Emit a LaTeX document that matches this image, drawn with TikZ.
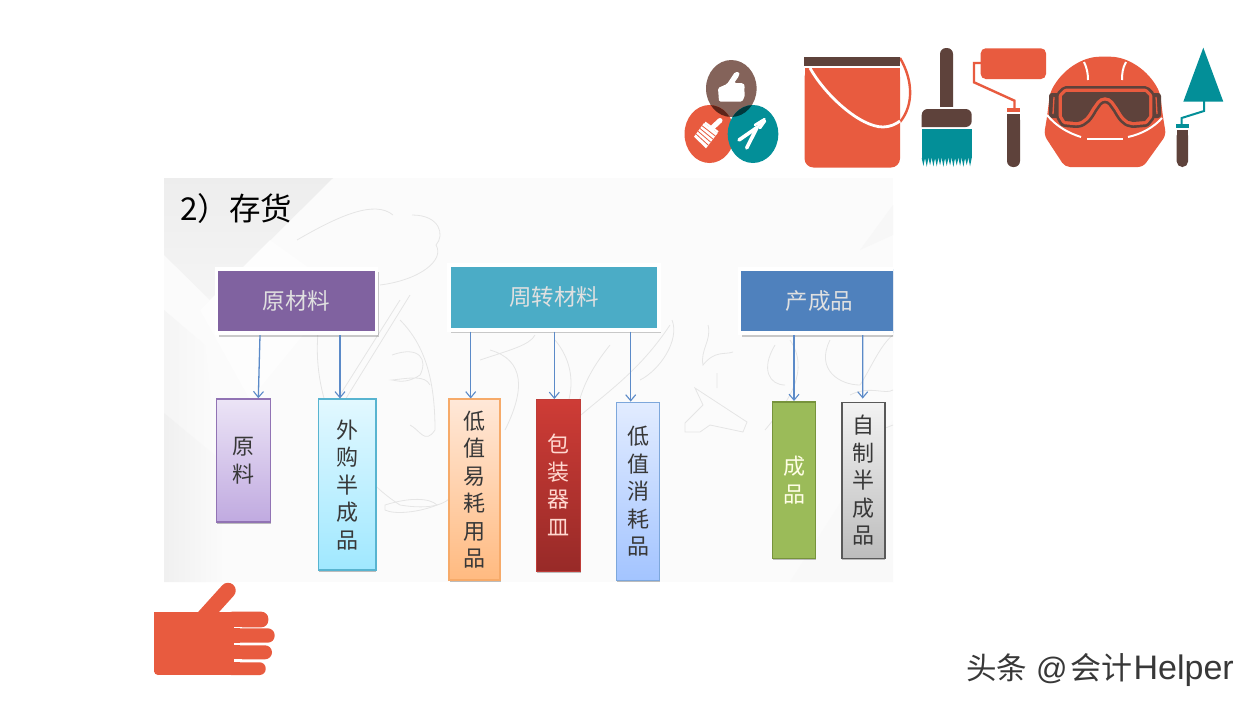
\documentclass[tikz,border=0pt]{standalone}
\usepackage{fontspec}
\setmainfont{Liberation Sans}
\newfontfamily\cjk{Noto Sans CJK SC}
\usetikzlibrary{arrows.meta,shadows}
\definecolor{orng}{HTML}{E85B3F}
\definecolor{brwn}{HTML}{5E423B}
\definecolor{teal2}{HTML}{038F98}
\definecolor{brwnb}{HTML}{84635A}
\definecolor{arr}{HTML}{5B8AC8}
\tikzset{
 head/.style={draw=white,line width=3.6pt,minimum width=#1,minimum height=64.5pt,inner sep=0pt,text=white!88!black,font=\cjk\fontsize{22.5}{22.5}\selectfont,
   drop shadow={shadow xshift=2pt,shadow yshift=-3.4pt,fill=black,opacity=.2}},
 leaf/.style={line width=1.5pt,inner sep=0pt,align=center,font=\cjk\fontsize{22}{27.5}\selectfont,text=black!78,
   drop shadow={shadow xshift=.5pt,shadow yshift=-2pt,fill=black,opacity=.25}},
 flow/.style={draw=arr,line width=1.3pt,-{Straight Barb[length=6pt,width=10pt,line width=1.1pt]}},
 ghost/.style={draw=black!10,line width=.8pt},
 ot/.style={fill=orng,draw=none},
 bt/.style={fill=brwn,draw=none},
 tt/.style={fill=teal2,draw=none},
 wl/.style={draw=white,line cap=round},
}
\begin{document}
\begin{tikzpicture}[x=1pt,y=-1pt]
\useasboundingbox (0,0) rectangle (1260,707);
\fill[white] (0,0) rectangle (1260,707);
% ---------- slide panel
\fill[black!1.5] (164,178) rectangle (893,582);
\begin{scope}
\clip (164,178) rectangle (893,582);
\shade[top color=black!7,bottom color=black!4] (164,178) -- (333,178) -- (210,300) -- (164,255) -- cycle;
\fill[white!70!black!2] (270,240) -- (340,290) -- (250,400) -- (200,310) -- cycle;
\shade[left color=black!4,right color=black!1.5] (164,310) -- (205,345) -- (217,457) -- (164,413) -- cycle;
\shade[left color=black!6,right color=black!1.5] (164,413) -- (217,457) -- (225,582) -- (164,582) -- cycle;
\fill[black!3] (893,235) -- (860,250) -- (893,205) -- cycle;
\fill[black!2.5] (893,420) -- (790,582) -- (893,582) -- cycle;
% faint calligraphy
\draw[ghost] (297,240) .. controls (340,215) and (375,200) .. (393,215) (412,215) .. controls (440,215) and (445,235) .. (436,245) .. controls (445,260) and (420,280) .. (380,285);
\draw[ghost] (318,333) .. controls (312,400) and (345,470) .. (400,505) .. controls (430,510) and (450,505) .. (455,490);
\draw[ghost] (400,300) -- (340,395) (410,295) -- (345,400);
\draw[ghost] (400,320) .. controls (425,345) and (435,380) .. (435,430) .. controls (425,445) and (420,430) .. (410,425);
\draw[ghost] (392,355) .. controls (420,345) and (428,360) .. (420,375) .. controls (405,385) and (395,380) .. (392,380) .. controls (410,378) and (425,375) .. (430,385);
\draw[ghost] (385,505) .. controls (410,497) and (430,498) .. (437,505) .. controls (420,512) and (395,515) .. (385,510) -- cycle;
\draw[ghost] (490,350) .. controls (525,360) and (525,390) .. (505,430) (480,360) .. controls (510,350) and (530,345) .. (535,335);
\draw[ghost] (555,340) .. controls (580,370) and (575,410) .. (545,440);
\draw[ghost] (610,345) .. controls (590,370) and (580,390) .. (575,420) .. controls (610,390) and (640,370) .. (670,325);
\draw[ghost] (672,320) .. controls (680,340) and (660,370) .. (640,380);
\draw[ghost] (708,325) .. controls (712,340) and (700,350) .. (703,365) .. controls (715,350) and (725,355) .. (733,352);
\draw[ghost] (717,373) -- (717,388) (695,388) -- (747,422) -- (743,432) -- (710,425) -- (700,432) -- (685,432) -- (685,423) -- (703,405) -- cycle;
\draw[ghost] (775,345) .. controls (760,370) and (770,385) .. (785,385) (790,340) .. controls (810,370) and (790,400) .. (765,430);
\draw[ghost] (830,340) .. controls (815,370) and (840,385) .. (860,385) .. controls (870,370) and (880,345) .. (893,335);
\draw[ghost] (850,395) .. controls (870,385) and (885,395) .. (893,390) (845,420) .. controls (860,440) and (880,430) .. (893,425);
\end{scope}
% ---------- title
\node[anchor=west,inner sep=0pt,font=\cjk\fontsize{31.5}{31.5}\selectfont,text=black] (title) at (180,209) {2）存货};
% ---------- boxes
\begin{scope}
\clip (164,178) rectangle (893,582);
\node[head=160pt,fill={rgb,255:red,128;green,98;blue,160}] (h1) at (296.5,301) {原材料};
\node[head=210.5pt,fill={rgb,255:red,75;green,172;blue,198}] (h2) at (554,297.5) {周转材料};
\node[head=160pt,fill={rgb,255:red,79;green,129;blue,189}] (h3) at (819.5,301) {产成品};
\node[leaf,draw={rgb,255:red,145;green,115;blue,180},top color={rgb,255:red,236;green,228;blue,246},bottom color={rgb,255:red,192;green,170;blue,224},minimum width=54pt,minimum height=123pt] (l1) at (243.65,460.5) {原\\料};
\node[leaf,draw={rgb,255:red,88;green,180;blue,208},top color={rgb,255:red,226;green,248;blue,255},bottom color={rgb,255:red,160;green,232;blue,255},minimum width=57.5pt,minimum height=171pt] (l2) at (347.2,484.7) {外\\购\\半\\成\\品};
\node[leaf,draw={rgb,255:red,246;green,170;blue,105},top color={rgb,255:red,255;green,232;blue,216},bottom color={rgb,255:red,255;green,186;blue,128},minimum width=51pt,minimum height=181pt] (l3) at (474.65,489.7) {低\\值\\易\\耗\\用\\品};
\node[leaf,line width=.5pt,text={rgb,255:red,255;green,216;blue,208},draw={rgb,255:red,190;green,60;blue,56},top color={rgb,255:red,206;green,60;blue,54},bottom color={rgb,255:red,152;green,42;blue,40},minimum width=44pt,minimum height=171.5pt] (l4) at (558,485) {包\\装\\器\\皿};
\node[leaf,draw={rgb,255:red,125;green,167;blue,219},top color={rgb,255:red,226;green,236;blue,255},bottom color={rgb,255:red,163;green,196;blue,255},minimum width=43pt,minimum height=178pt] (l5) at (638,491.3) {低\\值\\消\\耗\\品};
\node[leaf,text=white!90!yellow,draw={rgb,255:red,119;green,147;blue,60},fill={rgb,255:red,155;green,187;blue,89},minimum width=43pt,minimum height=156.5pt] (l6) at (794,480) {成\\品};
\node[leaf,draw=black!65,top color=black!5,bottom color=black!26,minimum width=43pt,minimum height=156pt] (l7) at (863.35,480.3) {自\\制\\半\\成\\品};
\end{scope}
% ---------- connectors
\draw[flow] ([xshift=-36.5pt]h1.south) -- ([xshift=14.65pt]l1.north);
\draw[flow] ([xshift=43.5pt]h1.south) -- ([xshift=-7.2pt]l2.north);
\draw[flow] ([xshift=-83.3pt]h2.south) -- ([xshift=-3.95pt]l3.north);
\draw[flow] ([xshift=.3pt]h2.south) -- ([xshift=-3.7pt]l4.north);
\draw[flow] ([xshift=76.7pt]h2.south) -- ([xshift=-7.3pt]l5.north);
\draw[flow] ([xshift=-25.5pt]h3.south) -- (l6.north);
\draw[flow] ([xshift=43.2pt]h3.south) -- ([xshift=-.65pt,yshift=3pt]l7.north);
% ---------- top-left badge
\fill[brwnb] (731.3,88.5) ellipse (25.3 and 28.5);
\fill[orng] (709.5,134) ellipse (25 and 29);
\fill[teal2] (753,134) ellipse (25.3 and 29);
\begin{scope}
\clip (731.3,88.5) ellipse (25.3 and 28.5);
\fill[black!60!orng] (709.5,134) ellipse (25 and 29);
\fill[black!60!teal2] (753,134) ellipse (25.3 and 29);
\end{scope}
% thumb
\fill[white,rounded corners=1.5pt] (719,101.7) -- (718,88) -- (727,84) -- (735,72) -- (739.5,72) -- (739,76) -- (734,83) -- (743,83) -- (745,86) -- (744,90) -- (745,94) -- (744,98) -- (742,101.7) -- cycle;
% brush
\draw[white,line width=5pt,line cap=round] (720,120.5) -- (712,128);
\fill[white] (704,123) -- (717.7,133) -- (706,148.3) -- (694,136.7) -- cycle;
\foreach \t in {.2,.4,.6,.8} \draw[orng,line width=.8pt] ({704+\t*(-10)},{123+\t*13.7}) -- ({717.7+\t*(-11.7)},{133+\t*15.3});
\draw[white,line width=2pt] (705,122.5) -- (718,132);
% pliers
\draw[wl,line width=3.6pt] (739,140) -- (757,127.5);
\draw[wl,line width=3.6pt] (746.7,148) -- (757,127.5);
\draw[wl,line width=2.6pt] (757,127.5) -- (764.5,119);
\draw[wl,line width=2.6pt] (755,125) -- (763,120);
\draw[wl,line width=2.6pt] (760,128) -- (765,121);
% ---------- bucket
\draw[orng,line width=2.4pt] (900,58) .. controls (913,80) and (914,105) .. (900,122);
\fill[orng,rounded corners=9pt] (804.5,68) rectangle (900,167.5);
\fill[orng] (804.5,68) rectangle (900,80);
\fill[bt] (804,57) rectangle (900,66);
\draw[white,line width=2.8pt] (810,68) .. controls (825,95) and (860,127) .. (883,127) .. controls (890,127) and (896,124) .. (900,121);
% ---------- brush
\fill[bt,rounded corners=6pt] (940,48) rectangle (953,115);
\fill[white] (938,107) rectangle (955,109);
\fill[bt] (921.7,127) {[rounded corners=6pt] -- (921.7,109) -- (971.7,109) -- (971.7,127)} -- cycle;
\fill[tt] (921.7,129) rectangle (971.7,158);
\foreach \i in {0,...,14} \fill[tt] ({921.7+\i*3.333},158) -- ({923.4+\i*3.333},{166+.9*sin(\i*130)}) -- ({925.03+\i*3.333},158) -- cycle;
% ---------- roller
\fill[orng,rounded corners=5pt] (980.7,48.3) rectangle (1046,79);
\draw[orng,line width=2.4pt] (981,63) -- (974,63) -- (974,82.3) -- (1014.5,100.7) -- (1014.5,108);
\fill[orng] (1006.7,108) rectangle (1020,111.7);
\fill[bt,rounded corners=6pt] (1007,114) rectangle (1020,167);
\fill[bt] (1007,114) rectangle (1020,125);
% ---------- helmet
\fill[orng,rounded corners=5pt] (1065,167) -- (1044,135) -- (1047,117) -- (1050,93) .. controls (1062,70) and (1082,56.7) .. (1105,56.7) .. controls (1128,56.7) and (1148,70) .. (1160,93) -- (1163,117) -- (1166,135) -- (1143,167) -- cycle;
\draw[white,line width=2pt] (1084,62) .. controls (1087,68) and (1088,74) .. (1088,80);
\draw[white,line width=2pt] (1126,62) .. controls (1122.5,68) and (1122,74) .. (1122,80);
\fill[brwn,rounded corners=3pt] (1049,93) rectangle (1062,118);
\fill[brwn,rounded corners=3pt] (1149,93) rectangle (1161,118);
\draw[orng,line width=1.3pt] (1054,97) -- (1053,114);
\draw[orng,line width=1.3pt] (1156,97) -- (1157,114);
\def\lens{(1066,92) -- (1145,92) -- (1149,96) -- (1149,116) -- (1145,121) -- (1133,122) .. controls (1126,122) and (1122,115) .. (1118,108) -- (1113,101) .. controls (1109,96) and (1101,96) .. (1097,101) -- (1092,108) .. controls (1088,115) and (1084,122) .. (1076,122) -- (1065,121) -- (1062,116) -- (1062,96) -- cycle}
\draw[brwn,line width=12pt,line join=round] \lens;
\draw[orng,line width=6.6pt,line join=round] \lens;
\fill[brwn] \lens;
\draw[white,line width=2pt] (1047,115) .. controls (1056,126) and (1068,133) .. (1081,137);
\draw[white,line width=2pt] (1087,139) -- (1123,139);
\draw[white,line width=2pt] (1128,137) .. controls (1142,134) and (1154,127) .. (1162,118);
% ---------- trowel
\fill[tt] (1203.3,47.7) -- (1223.3,101.7) -- (1183.3,101.7) -- cycle;
\draw[teal2,line width=2pt] (1204,101) -- (1204,111) -- (1181.7,118) -- (1181.7,124);
\fill[tt] (1176,124) rectangle (1188.7,127.7);
\fill[bt,rounded corners=5.5pt] (1176.7,130) rectangle (1188,167);
\fill[bt] (1176.7,130) rectangle (1188,140);
% ---------- hand
\fill[orng] (154,611.7) rectangle (240,675);
\fill[white] (150,675) rectangle (158,672);
\fill[orng] (158,675) arc (90:180:4) -- (158,671) -- cycle;
\draw[orng,line width=15.5pt,line cap=round] (228,590.5) -- (195,627);
\fill[orng,rounded corners=7pt] (225,611.7) rectangle (268.3,627.3);
\fill[orng,rounded corners=7pt] (225,628.3) rectangle (274.7,642.7);
\fill[orng,rounded corners=7pt] (225,645.3) rectangle (272,659.3);
\fill[orng,rounded corners=6pt] (225,662.3) rectangle (265.7,675);
\fill[white] (234,627.3) rectangle (242,628.3);
\fill[white] (234,642.7) rectangle (242,645.3);
\fill[white] (234,659.3) rectangle (242,662.3);
% ---------- watermark
\node[anchor=west,inner sep=0pt,text=black!78] (wm) at (966,670) {\cjk\fontsize{30.5}{30}\selectfont 头条\hspace{9pt}\rmfamily\fontsize{31}{30}\selectfont @\hspace{3pt}\cjk\fontsize{31}{30}\selectfont 会计\hspace{1pt}\rmfamily\fontsize{34}{30}\selectfont Helper};
\end{tikzpicture}
\end{document}
